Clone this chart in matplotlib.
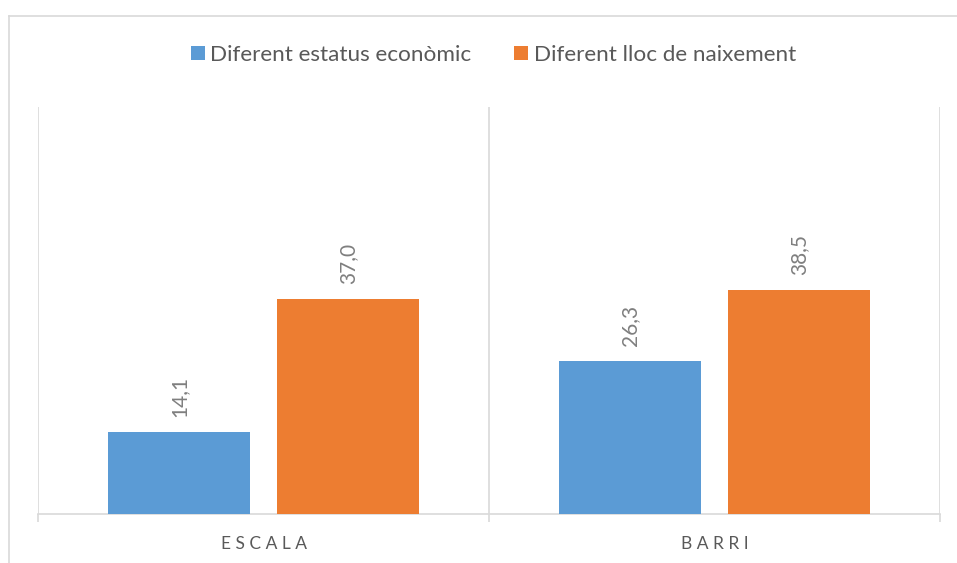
import numpy as np
import matplotlib.pyplot as plt
from matplotlib.lines import Line2D

categories = ["ESCALA", "BARRI"]
series_names = ["Diferent estatus econòmic", "Diferent lloc de naixement"]
econ = [14.1, 26.3]
birth = [37.0, 38.5]

BLUE = "#5B9BD5"
ORANGE = "#ED7D31"
GRID = "#D9D9D9"
TEXT = "#595959"
LABEL = "#7F7F7F"

plt.rcParams["font.family"] = ["Lato", "DejaVu Sans"]

fig = plt.figure(figsize=(9.57, 5.63), dpi=100)
ax = fig.add_axes([0.0402, 0.0870, 0.9420, 0.7229])

x = np.arange(len(categories))
w = 0.315
off = 0.1875
b1 = ax.bar(x - off, econ, w, color=BLUE, label=series_names[0], zorder=3)
b2 = ax.bar(x + off, birth, w, color=ORANGE, label=series_names[1], zorder=3)

# rotated value labels above bars, comma decimals
for bars, vals in ((b1, econ), (b2, birth)):
    for rect, v in zip(bars, vals):
        ax.annotate(f"{v:.1f}".replace(".", ","),
                    (rect.get_x() + rect.get_width() / 2, v),
                    xytext=(0, 11), textcoords="offset points",
                    rotation=90, ha="center", va="bottom",
                    fontsize=15, color=LABEL)

ax.set_xlim(-0.5, 1.5)
ax.set_ylim(0, 70)

for s in ("top", "right", "left"):
    ax.spines[s].set_visible(False)
ax.spines["bottom"].set_color(GRID)
ax.spines["bottom"].set_linewidth(1.2)

ax.set_yticks([])
ax.set_xticks(x)
ax.set_xticklabels([" ".join(c) for c in categories], fontsize=12.5, color=TEXT)
ax.tick_params(axis="x", which="major", length=0, pad=16)
ax.set_xticks([-0.5, 0.5, 1.5], minor=True)
ax.tick_params(axis="x", which="minor", length=5.5, width=1.2, color=GRID)
ax.grid(True, axis="x", which="minor", color=GRID, linewidth=1.2, zorder=0)
ax.grid(False, axis="x", which="major")

fig.legend(handles=[b1, b2], loc="center", bbox_to_anchor=(0.5157, 1 - 55 / 563),
           ncol=2, frameon=False, fontsize=16.2, labelcolor=TEXT,
           handlelength=0.62, handleheight=0.62, handletextpad=0.25,
           columnspacing=1.9)

# chart area border (cut off at right and bottom)
bx = 8.5 / 957
by = 1 - 15.5 / 563
fig.add_artist(Line2D([bx, bx], [0, by], transform=fig.transFigure, color=GRID, lw=1.2))
fig.add_artist(Line2D([bx, 1], [by, by], transform=fig.transFigure, color=GRID, lw=1.2))

fig.savefig("out.png", dpi=100)
